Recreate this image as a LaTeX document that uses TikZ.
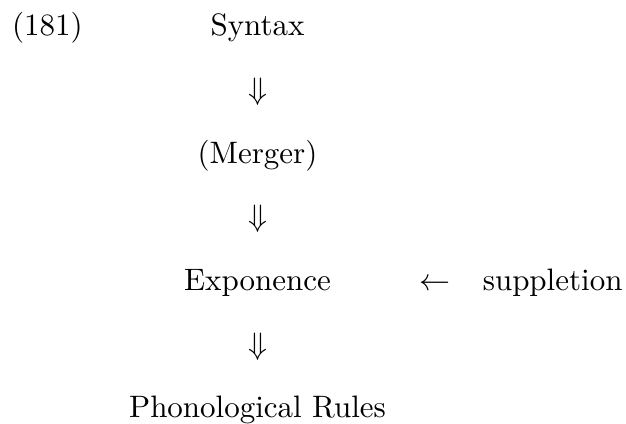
\documentclass[tikz,border=0pt]{standalone}
\begin{document}
\begin{tikzpicture}[x=1pt,y=1pt,
  lbl/.style={inner sep=0pt,outer sep=0pt,anchor=base},
  lblw/.style={inner sep=0pt,outer sep=0pt,anchor=base west}]
\useasboundingbox (0,0) rectangle (202,-136.5);
% row baselines, 20.54pt apart
\def\rowgap{20.54}
\node[lblw] (num) at (3.9,-11.6) {(181)};
\node[lbl] (syn) at (83.1,-11.6) {Syntax};
\node[lbl] (d1)  at (83.1,-11.6-\rowgap) {$\Downarrow$};
\node[lbl] (mer) at (83.1,-11.6-2*\rowgap) {(Merger)};
\node[lbl] (d2)  at (83.1,-11.6-3*\rowgap) {$\Downarrow$};
\node[lbl] (exp) at (83.1,-11.6-4*\rowgap) {Exponence};
\node[lbl] (la)  at (140.3,-11.6-4*\rowgap) {$\leftarrow$};
\node[lblw] (sup) at (155.8,-11.6-4*\rowgap) {suppletion};
\node[lbl] (d3)  at (83.1,-11.6-5*\rowgap) {$\Downarrow$};
\node[lbl] (pho) at (83.1,-11.6-6*\rowgap) {Phonological Rules};
\end{tikzpicture}
\end{document}
